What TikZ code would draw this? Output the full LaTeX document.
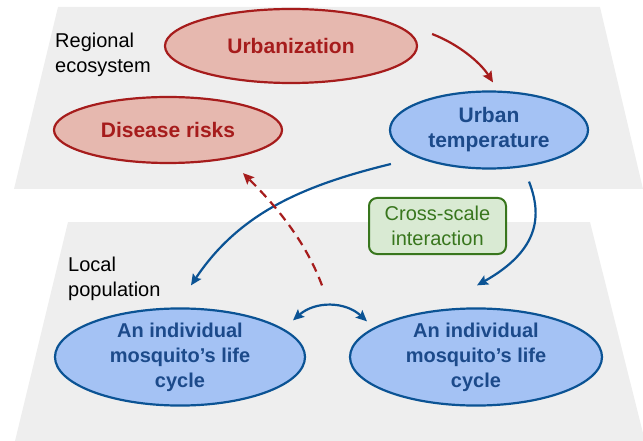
\documentclass[tikz,border=0pt]{standalone}
\usepackage{fontspec}
\setmainfont{Liberation Sans}
\usetikzlibrary{shapes.geometric,arrows.meta,calc}

\definecolor{planegray}{HTML}{EEEEEE}
\definecolor{redfill}{HTML}{E6B8AF}
\definecolor{redline}{HTML}{A61C1C}
\definecolor{bluefill}{HTML}{A4C2F4}
\definecolor{blueline}{HTML}{0B5394}
\definecolor{bluetext}{HTML}{1C4A8A}
\definecolor{greenfill}{HTML}{D9EAD3}
\definecolor{greenline}{HTML}{38761D}

\tikzset{
  plane/.style={fill=planegray, draw=none},
  layerlabel/.style={anchor=north west, inner sep=0pt, align=left,
    font=\fontsize{20}{25}\selectfont},
  redoval/.style={ellipse, draw=redline, fill=redfill, line width=2.2pt,
    inner sep=0pt, text=redline, align=center,
    font=\fontsize{21}{25}\selectfont\bfseries},
  blueoval/.style={ellipse, draw=blueline, fill=bluefill, line width=2.2pt,
    inner sep=0pt, text=bluetext, align=center,
    font=\fontsize{20}{25}\selectfont\bfseries},
  scalebox/.style={draw=greenline, fill=greenfill, line width=2pt,
    rounded corners=8pt, text=greenline, align=center, inner sep=0pt,
    minimum width=137pt, minimum height=56pt,
    font=\fontsize{20}{25}\selectfont},
  tip/.style={-{Stealth[length=11pt,width=10pt,inset=2pt]}},
  bluearrow/.style={tip, draw=blueline, line width=2.2pt},
  redarrow/.style={tip, draw=redline, line width=2.2pt},
  riskarrow/.style={tip, draw=redline, line width=2.2pt, dash pattern=on 9pt off 6pt},
  twoway/.style={{Stealth[length=11pt,width=10pt,inset=2pt]}-{Stealth[length=11pt,width=10pt,inset=2pt]},
    draw=blueline, line width=2.2pt}
}

\begin{document}
\begin{tikzpicture}[x=1pt, y=-1pt]
  \useasboundingbox (0,0) rectangle (643,441);

  % the two layers
  \fill[plane] (58,7) -- (600,7) -- (643,189) -- (14,189) -- cycle;
  \fill[plane] (68,222) -- (590,222) -- (645,441) -- (15,441) -- cycle;

  % layer names
  \node[layerlabel] (regional) at (55,33) {Regional\\ecosystem};
  \node[layerlabel] (local) at (68,257) {Local\\population};

  % regional ecosystem
  \node[redoval, minimum width=252pt, minimum height=74pt] (urb) at (291,46) {Urbanization};
  \node[redoval, minimum width=228pt, minimum height=66pt] (dis) at (168,130) {Disease risks};
  \node[blueoval, minimum width=198pt, minimum height=77pt,
        font=\fontsize{21}{25}\selectfont\bfseries] (temp) at (489,130) {Urban\\temperature};

  % local population
  \node[blueoval, minimum width=250pt, minimum height=94pt] (m1) at (180,357) {An individual\\mosquito’s life\\cycle};
  \node[blueoval, minimum width=252pt, minimum height=94pt] (m2) at (476,357) {An individual\\mosquito’s life\\cycle};

  \node[scalebox] (cross) at (437.5,226) {Cross-scale\\interaction};

  % connector end points, set off from the ovals
  \coordinate (urbOut) at ($(urb.east)+(14,-12)$);
  \coordinate (tempIn) at ($(temp.north)+(4,-8)$);
  \coordinate (tempOutL) at ($(temp.west)+(2,34)$);
  \coordinate (tempOutR) at ($(temp.south)+(40,12)$);
  \coordinate (m1In) at ($(m1.north)+(11,-22)$);
  \coordinate (m2In) at ($(m2.north)+(1,-22)$);
  \coordinate (riskFrom) at ($(m1.north)+(142,-22)$);
  \coordinate (riskTo) at ($(dis.south)+(75,9)$);
  \coordinate (linkL) at ($(m1.north)+(113,13)$);
  \coordinate (linkR) at ($(m2.north)+(-109,14)$);

  % connectors
  \draw[redarrow] (urbOut) .. controls (458,44) and (480,62) .. (tempIn);
  \draw[bluearrow] (tempOutL) .. controls (305,185) and (240,212) .. (m1In);
  \draw[bluearrow] (tempOutR) .. controls (542,215) and (540,250) .. (m2In);
  \draw[riskarrow] (riskFrom) .. controls (305,240) and (275,205) .. (riskTo);
  \draw[twoway] (linkL) .. controls (315,301) and (345,301) .. (linkR);
\end{tikzpicture}
\end{document}
